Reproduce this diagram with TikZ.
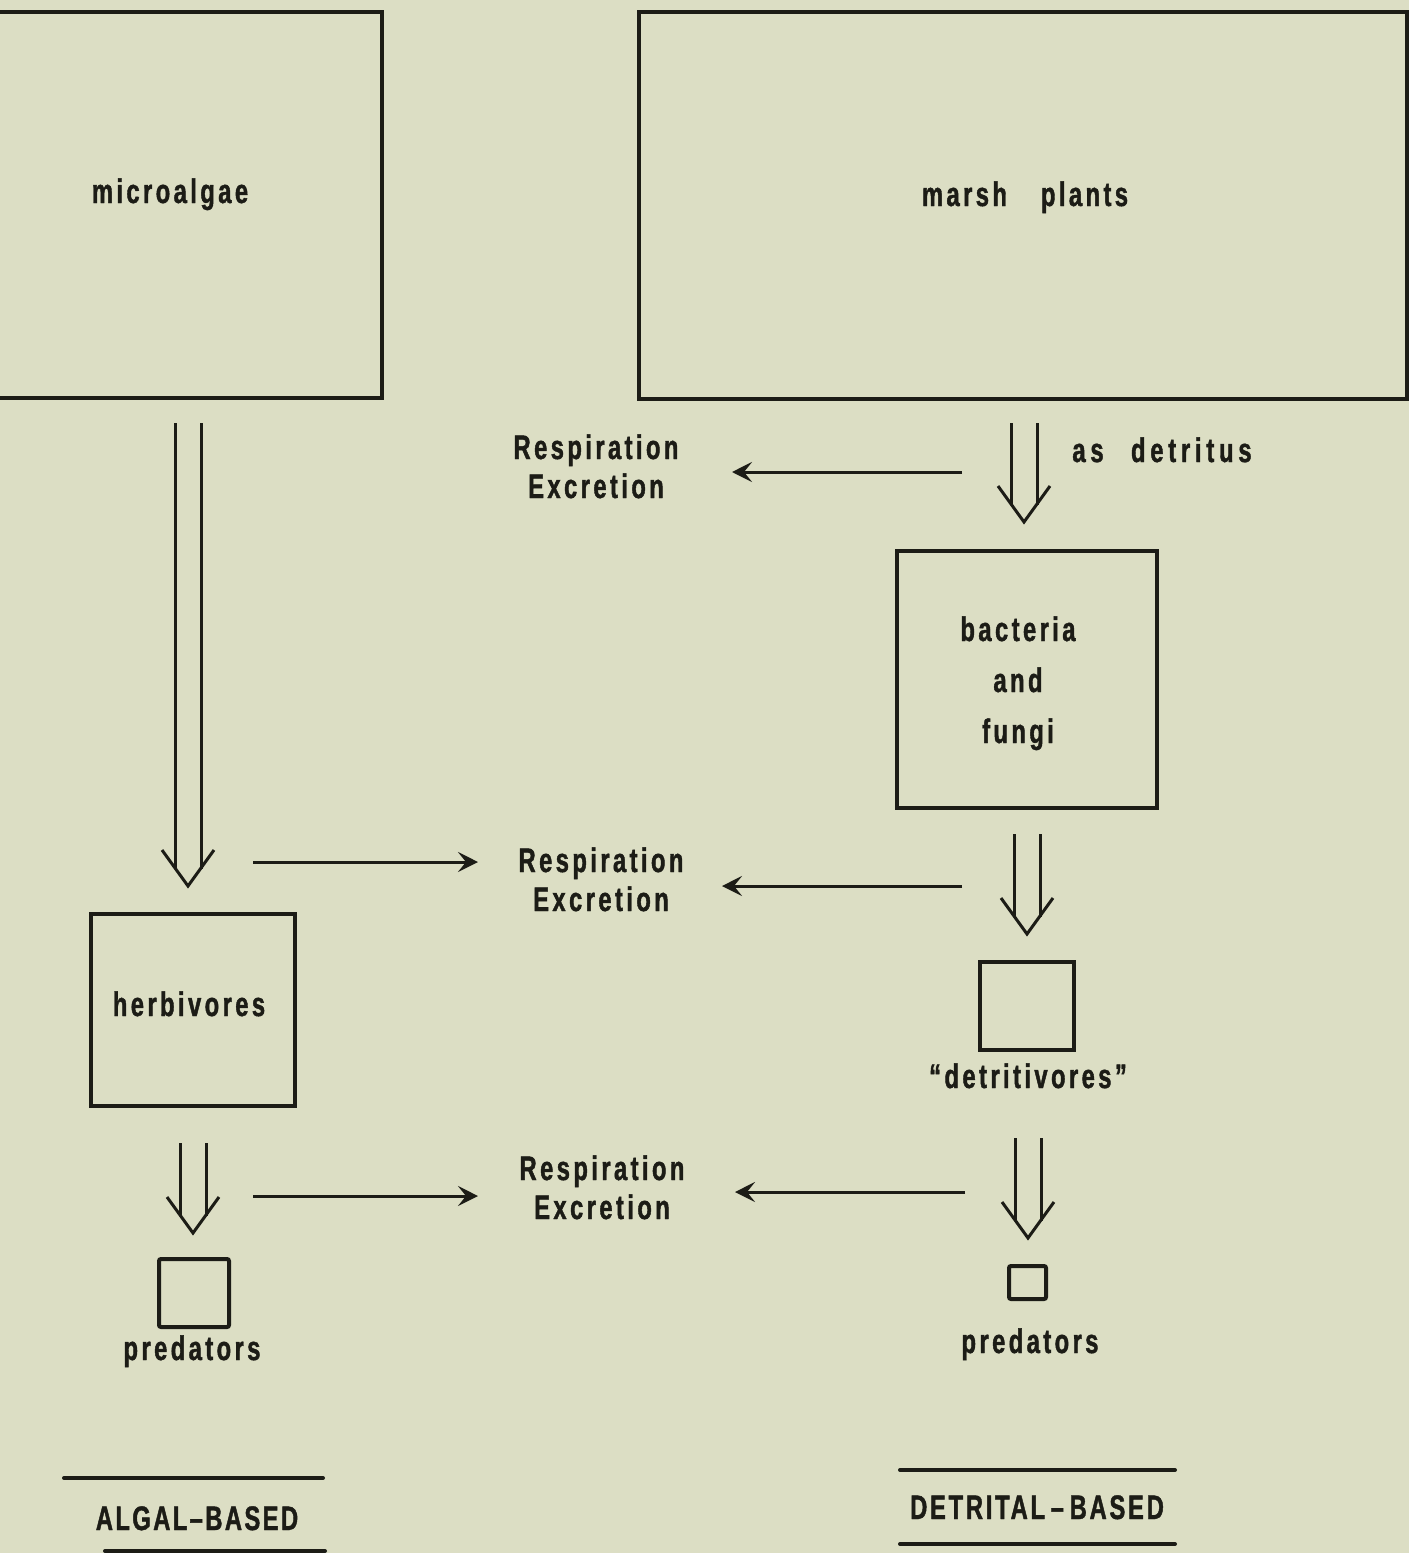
\documentclass[tikz,border=0pt]{standalone}
\usepackage{fontspec}
\setmainfont{Liberation Sans}[FakeStretch=0.7,LetterSpace=10,BoldFeatures={FakeBold=1.2}]
\usetikzlibrary{arrows.meta,calc,fit}
\definecolor{paper}{HTML}{DCDEC4}
\definecolor{ink}{HTML}{1C1C16}
\tikzset{
  box/.style={draw=ink,line width=2pt,inner sep=0pt},
  lbl/.style={text=ink,font=\fontsize{17}{19.5}\selectfont\bfseries,inner sep=0pt,align=center},
  flow/.style={draw=ink,line width=1.5pt,-{Stealth[length=10pt,width=10pt,inset=4pt]}},
  dline/.style={draw=ink,line width=1.5pt},
  rule/.style={draw=ink,line width=2pt,line cap=round},
}
\newcommand\dblarrow[2]{%
  \draw[dline] ($(#1)+(-13,0)$) -- ($(#2)+(-13,-17)$);
  \draw[dline] ($(#1)+(13,0)$) -- ($(#2)+(13,-17)$);
  \draw[dline,line join=miter] ($(#2)+(-26,-36)$) -- (#2) -- ($(#2)+(26,-36)$);}
\begin{document}
\begin{tikzpicture}[x=0.5pt,y=-0.5pt]
\fill[paper] (0,0) rectangle (1409,1553);
\useasboundingbox (0,0) rectangle (1409,1553);

% boxes
\node[box,fit={(-10,12) (382,398)}] (micro) {};
\node[box,fit={(639,12) (1407,399)}] (marsh) {};
\node[box,fit={(897,551) (1157,808)}] (bact) {};
\node[box,fit={(91,914) (295,1106)}] (herb) {};
\node[box,fit={(980,962) (1074,1050)}] (detv) {};
\node[box,rounded corners=1pt,fit={(159,1259) (229,1327)}] (predL) {};
\node[box,rounded corners=1pt,fit={(1009,1266) (1046,1299)}] (predR) {};

% labels (multi-line nodes: base = baseline of last line)
\node[lbl,anchor=base] (tmicro) at (170,203) {microalgae};
\node[lbl,anchor=base] (tmarsh) at (1025,206) {marsh\hspace{12pt} plants};
\node[lbl,anchor=base] (resp1) at (596,498) {Respiration\\Excretion};
\node[lbl,anchor=base west] (tdet) at (1072,462) {\addfontfeatures{LetterSpace=14}as\hspace{8pt} detritus};
\node[lbl,anchor=base,font=\fontsize{17}{25.5}\selectfont\bfseries] (tbact) at (1018,743) {bacteria\\and\\fungi};
\node[lbl,anchor=base] (resp2) at (601,911) {Respiration\\Excretion};
\node[lbl,anchor=base] (therb) at (189,1016) {herbivores};
\node[lbl,anchor=base] (tdetv) at (1028,1088) {“detritivores”};
\node[lbl,anchor=base] (resp3) at (602,1219) {Respiration\\Excretion};
\node[lbl,anchor=base] (tpredL) at (192,1360) {predators};
\node[lbl,anchor=base] (tpredR) at (1030,1353) {predators};
\node[lbl,anchor=base] (talgal) at (197,1530) {\addfontfeatures{LetterSpace=7}ALGAL{–}BASED};
\node[lbl,anchor=base] (tdetr) at (1037,1519) {\addfontfeatures{LetterSpace=8}DETRITAL\,–\,BASED};

% double arrows
\coordinate (a1top) at (188,423); \coordinate (a1tip) at (188,886);
\coordinate (a2top) at (1024,423); \coordinate (a2tip) at (1024,522);
\coordinate (a3top) at (1027,834); \coordinate (a3tip) at (1027,934);
\coordinate (a4top) at (1028,1138); \coordinate (a4tip) at (1028,1238);
\coordinate (a5top) at (193,1143); \coordinate (a5tip) at (193,1233);
\dblarrow{a1top}{a1tip}
\dblarrow{a2top}{a2tip}
\dblarrow{a3top}{a3tip}
\dblarrow{a4top}{a4tip}
\dblarrow{a5top}{a5tip}

% single arrows
\coordinate (f1s) at (962,472); \coordinate (f1e) at (732,472);
\coordinate (f2s) at (253,862); \coordinate (f2e) at (478,862);
\coordinate (f3s) at (962,886); \coordinate (f3e) at (722,886);
\coordinate (f4s) at (253,1196); \coordinate (f4e) at (478,1196);
\coordinate (f5s) at (965,1192); \coordinate (f5e) at (735,1192);
\draw[flow] (f1s) -- (f1e);
\draw[flow] (f2s) -- (f2e);
\draw[flow] (f3s) -- (f3e);
\draw[flow] (f4s) -- (f4e);
\draw[flow] (f5s) -- (f5e);

% rules
\draw[rule] (64,1478) -- (323,1478);
\draw[rule] (105,1551) -- (325,1551);
\draw[rule] (900,1470) -- (1175,1470);
\draw[rule] (900,1544) -- (1175,1544);
\end{tikzpicture}
\end{document}
